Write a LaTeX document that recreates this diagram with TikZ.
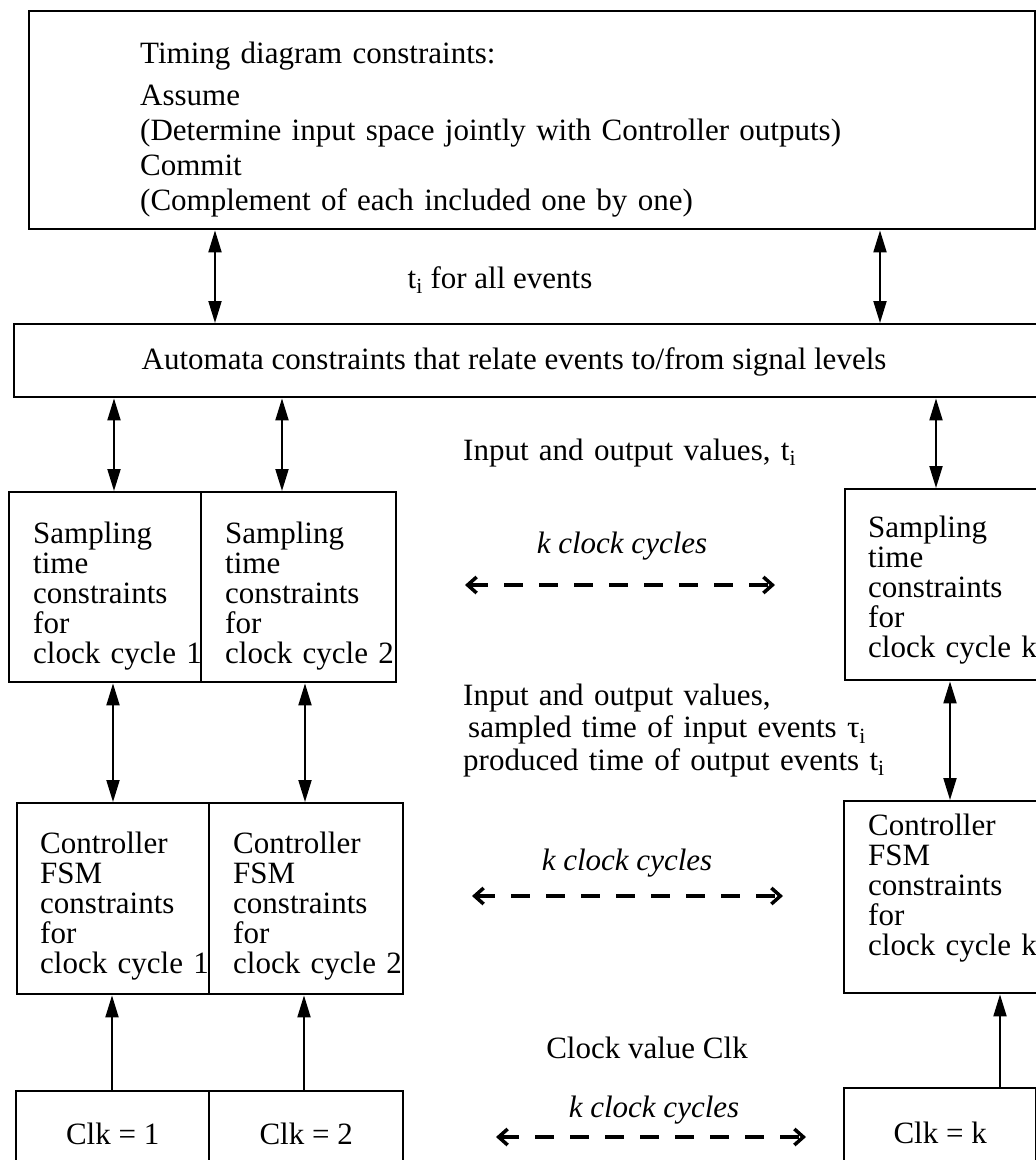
\documentclass[tikz,border=0pt]{standalone}
\usepackage{fontspec}
\setmainfont{Liberation Serif}
\usetikzlibrary{arrows.meta}

\begin{document}
\begin{tikzpicture}[x=1pt,y=-1pt,
  every node/.style={font=\fontsize{31}{30}\selectfont},
  box/.style={draw,line width=2.4pt,anchor=north west,inner sep=0pt},
  txt/.style={anchor=base west,align=left,inner sep=0pt},
  lbl/.style={anchor=base,inner sep=0pt},
  cyclbl/.style={anchor=base,inner sep=0pt,font=\fontsize{31}{30}\selectfont\itshape},
  dbl/.style={line width=2pt,{Triangle[length=22pt,width=13pt]}-{Triangle[length=22pt,width=13pt]}},
  upar/.style={line width=2pt,-{Triangle[length=22pt,width=13pt]}},
  cyc/.style={line width=3.5pt,dash pattern=on 19pt off 16pt,{Straight Barb[length=9pt,width=16pt]}-{Straight Barb[length=9pt,width=16pt]}}]
\useasboundingbox[fill=white] (0,0) rectangle (1036,1160);
\clip (0,0) rectangle (1036,1160);

% boxes
\node[box,minimum width=1006pt,minimum height=218pt] (timing) at (28,10) {};
\node[box,minimum width=1040pt,minimum height=73pt] (autom) at (13,323) {};
\node[box,minimum width=192pt,minimum height=190pt] (samp1) at (8,491) {};
\node[box,minimum width=195pt,minimum height=190pt] (samp2) at (200,491) {};
\node[box,minimum width=210pt,minimum height=191pt] (sampk) at (844,488) {};
\node[box,minimum width=192pt,minimum height=191pt] (ctrl1) at (16,802) {};
\node[box,minimum width=194pt,minimum height=191pt] (ctrl2) at (208,802) {};
\node[box,minimum width=210pt,minimum height=192pt] (ctrlk) at (843,800) {};
\node[box,minimum width=193pt,minimum height=86pt] (clk1) at (15,1090) {Clk = 1};
\node[box,minimum width=194pt,minimum height=86pt] (clk2) at (208,1090) {Clk = 2};
\node[box,minimum width=192pt,minimum height=89pt] (clkk) at (843,1087) {Clk = k};

% box texts
\node[txt,text width=800pt] (timingtxt) at (140,63) {Timing diagram constraints:\\[12pt]
  Assume\\[5pt] (Determine input space jointly with Controller outputs)\\[5pt]
  Commit\\[5pt] (Complement of each included one by one)};
\node[lbl] (automtxt) at (514,369) {Automata constraints that relate events to/from signal levels};
\node[txt,text width=180pt] (samp1txt) at (33,543) {Sampling\\ time\\ constraints\\ for\\ clock cycle 1};
\node[txt,text width=180pt] (samp2txt) at (225,543) {Sampling\\ time\\ constraints\\ for\\ clock cycle 2};
\node[txt,text width=180pt] (sampktxt) at (868,537) {Sampling\\ time\\ constraints\\ for\\ clock cycle k};
\node[txt,text width=180pt] (ctrl1txt) at (40,853) {Controller\\ FSM\\ constraints\\ for\\ clock cycle 1};
\node[txt,text width=180pt] (ctrl2txt) at (233,853) {Controller\\ FSM\\ constraints\\ for\\ clock cycle 2};
\node[txt,text width=180pt] (ctrlktxt) at (868,835) {Controller\\ FSM\\ constraints\\ for\\ clock cycle k};

% free labels
\node[lbl] (events) at (500,288) {t\textsubscript{i} for all events};
\node[txt,text width=400pt] (iovals) at (463,460) {Input and output values, t\textsubscript{i}};
\node[txt,text width=480pt] (sampled) at (463,705) {Input and output values,\\[2.5pt]
  \hspace{5pt}sampled time of input events τ\textsubscript{i}\\[2.5pt]
  produced time of output events t\textsubscript{i}};
\node[lbl] (clkval) at (647,1058) {Clock value Clk};

% x positions of the vertical connectors
\coordinate (xa) at (215,0); \coordinate (xb) at (880,0);
\coordinate (xc) at (114,0); \coordinate (xd) at (282,0); \coordinate (xe) at (936,0);
\coordinate (xf) at (113,0); \coordinate (xg) at (305,0); \coordinate (xh) at (950,0);
\coordinate (xi) at (112,0); \coordinate (xj) at (304,0); \coordinate (xk) at (1000,0);

\draw[dbl] (timing.south -| xa) -- (autom.north -| xa);
\draw[dbl] (timing.south -| xb) -- (autom.north -| xb);
\draw[dbl] (autom.south -| xc) -- (samp1.north -| xc);
\draw[dbl] (autom.south -| xd) -- (samp2.north -| xd);
\draw[dbl] (autom.south -| xe) -- (sampk.north -| xe);
\draw[dbl] (samp1.south -| xf) -- (ctrl1.north -| xf);
\draw[dbl] (samp2.south -| xg) -- (ctrl2.north -| xg);
\draw[dbl] (sampk.south -| xh) -- (ctrlk.north -| xh);
\draw[upar] (clk1.north -| xi) -- (ctrl1.south -| xi);
\draw[upar] (clk2.north -| xj) -- (ctrl2.south -| xj);
\draw[upar] (clkk.north -| xk) -- (ctrlk.south -| xk);

% k clock cycles
\coordinate (d1l) at (465,585); \coordinate (d1r) at (775,585);
\coordinate (d2l) at (472,896); \coordinate (d2r) at (783,896);
\coordinate (d3l) at (496,1137); \coordinate (d3r) at (806,1137);
\draw[cyc] (d1l) -- (d1r);
\draw[cyc] (d2l) -- (d2r);
\draw[cyc] (d3l) -- (d3r);
\node[cyclbl] (cyc1) at (622,553) {k clock cycles};
\node[cyclbl] (cyc2) at (627,870) {k clock cycles};
\node[cyclbl] (cyc3) at (654,1117) {k clock cycles};
\end{tikzpicture}
\end{document}
